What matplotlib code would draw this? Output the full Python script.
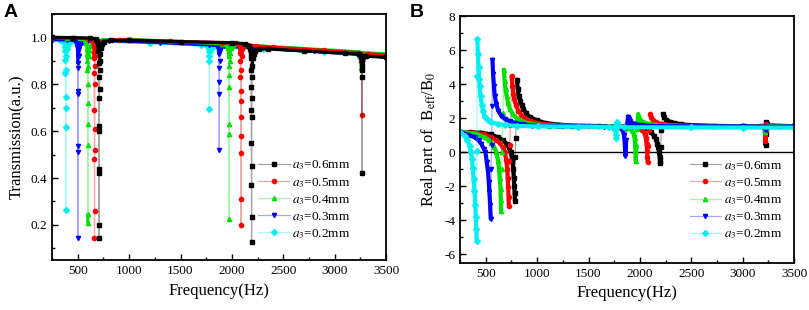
import numpy as np
import matplotlib
matplotlib.use('Agg')
import matplotlib.pyplot as plt
from matplotlib.ticker import MultipleLocator

plt.rcParams['font.family'] = ['Liberation Serif', 'DejaVu Serif']
plt.rcParams['mathtext.fontset'] = 'stix'
plt.rcParams['axes.unicode_minus'] = False

# legend labels, colours, markers (order as in the legend)
labels = ['$a_3$=0.6mm', '$a_3$=0.5mm', '$a_3$=0.4mm', '$a_3$=0.3mm', '$a_3$=0.2mm']
colors = ['#000000', '#ff0000', '#00e000', '#0000ff', '#00f0f0']
markers = ['s', 'o', '^', 'v', 'D']

# ---- panel A: transmission (frequency Hz, transmission a.u.)
trans_06 = [(250, 1.0), (450, 0.999), (620, 0.997), (680, 0.993), (692, 0.985), (698, 0.97),
            (701, 0.94), (703, 0.89), (704, 0.83), (705, 0.74), (706, 0.6), (707, 0.42),
            (708, 0.145), (709, 0.2), (710, 0.44), (711, 0.62), (712, 0.78), (713, 0.86),
            (715, 0.9), (718, 0.93), (724, 0.955), (735, 0.97), (760, 0.98), (820, 0.987),
            (1000, 0.987), (1500, 0.982), (2000, 0.977), (2130, 0.973), (2165, 0.965),
            (2176, 0.95), (2181, 0.93), (2184, 0.91), (2186, 0.86), (2187, 0.79), (2188, 0.69),
            (2189, 0.55), (2190, 0.37), (2191, 0.128), (2192, 0.234), (2193, 0.45), (2194, 0.66),
            (2195, 0.74), (2196, 0.83), (2198, 0.88), (2202, 0.91), (2210, 0.93), (2225, 0.943),
            (2260, 0.95), (2350, 0.951), (2700, 0.942), (3100, 0.932), (3235, 0.928),
            (3252, 0.922), (3258, 0.915), (3262, 0.905), (3263, 0.83), (3264, 0.88), (3265, 0.42),
            (3266, 0.86), (3268, 0.9), (3275, 0.915), (3300, 0.92), (3500, 0.915)]
trans_05 = [(250, 0.998), (450, 0.997), (600, 0.995), (640, 0.99), (650, 0.98), (655, 0.965),
            (658, 0.935), (659, 0.91), (660, 0.85), (661, 0.69), (662, 0.48), (663, 0.145),
            (664, 0.26), (665, 0.52), (666, 0.61), (667, 0.8), (668, 0.88), (670, 0.92),
            (674, 0.945), (682, 0.962), (700, 0.975), (750, 0.985), (900, 0.99), (1400, 0.984),
            (1900, 0.978), (2040, 0.975), (2068, 0.968), (2076, 0.955), (2080, 0.935),
            (2082, 0.9), (2083, 0.83), (2084, 0.77), (2085, 0.66), (2086, 0.505), (2087, 0.2),
            (2088, 0.31), (2089, 0.58), (2090, 0.73), (2092, 0.86), (2095, 0.92), (2100, 0.95),
            (2115, 0.962), (2160, 0.967), (2400, 0.958), (2900, 0.945), (3230, 0.935),
            (3252, 0.928), (3258, 0.915), (3260, 0.9), (3262, 0.67), (3264, 0.91), (3270, 0.925),
            (3320, 0.93), (3500, 0.925)]
trans_04 = [(250, 1.0), (400, 0.999), (540, 0.996), (575, 0.99), (585, 0.975), (590, 0.955),
            (592, 0.93), (594, 0.9), (595, 0.86), (596, 0.72), (597, 0.54), (598, 0.21),
            (599, 0.245), (600, 0.63), (601, 0.8), (603, 0.88), (606, 0.92), (612, 0.945),
            (625, 0.965), (660, 0.98), (750, 0.99), (1000, 0.992), (1500, 0.982), (1900, 0.972),
            (1950, 0.965), (1962, 0.955), (1967, 0.94), (1969, 0.92), (1970, 0.88), (1971, 0.79),
            (1972, 0.63), (1973, 0.226), (1974, 0.59), (1975, 0.84), (1977, 0.9), (1981, 0.935),
            (1990, 0.955), (2010, 0.965), (2100, 0.968), (2600, 0.955), (3100, 0.942),
            (3240, 0.938), (3252, 0.93), (3256, 0.9), (3258, 0.87), (3260, 0.92), (3270, 0.935),
            (3500, 0.93)]
trans_03 = [(250, 0.99), (400, 0.989), (470, 0.986), (490, 0.975), (496, 0.96), (499, 0.94),
            (500, 0.92), (501, 0.89), (502, 0.77), (503, 0.535), (504, 0.145), (505, 0.51),
            (506, 0.76), (507, 0.87), (509, 0.92), (513, 0.95), (522, 0.968), (545, 0.978),
            (600, 0.984), (800, 0.986), (1300, 0.978), (1780, 0.968), (1850, 0.965),
            (1866, 0.955), (1871, 0.93), (1874, 0.87), (1876, 0.76), (1877, 0.52), (1878, 0.81),
            (1880, 0.9), (1884, 0.94), (1893, 0.955), (1920, 0.962), (2200, 0.956), (2800, 0.94),
            (3230, 0.928), (3248, 0.922), (3252, 0.905), (3255, 0.925), (3270, 0.925),
            (3500, 0.915)]
trans_02 = [(250, 0.99), (330, 0.989), (360, 0.985), (370, 0.975), (375, 0.96), (378, 0.94),
            (380, 0.903), (381, 0.847), (382, 0.745), (383, 0.618), (384, 0.262), (385, 0.7),
            (386, 0.86), (388, 0.92), (392, 0.95), (400, 0.965), (420, 0.975), (470, 0.982),
            (700, 0.985), (1200, 0.978), (1700, 0.967), (1760, 0.963), (1773, 0.955),
            (1777, 0.94), (1779, 0.92), (1780, 0.694), (1781, 0.9), (1784, 0.94), (1792, 0.955),
            (1820, 0.96), (2300, 0.952), (2900, 0.938), (3225, 0.93), (3240, 0.925),
            (3244, 0.915), (3248, 0.925), (3300, 0.925), (3500, 0.92)]

# ---- panel B: real part of B_eff/B_0
beff_06 = [(250, 1.18), (350, 1.17), (458, 1.15), (550, 1.05), (621, 0.88), (670, 0.7),
           (703, 0.49), (725, 0.28), (745, 0.0), (758, -0.5), (768, -0.98), (773, -1.5),
           (777, -1.96), (781, -2.4), (784, -2.84), (788, -0.27), (792, 0.84), (804, 4.27),
           (812, 3.7), (822, 3.3), (833, 3.04), (850, 2.75), (866, 2.55), (895, 2.28),
           (931, 2.06), (1000, 1.87), (1078, 1.72), (1200, 1.63), (1340, 1.57), (1600, 1.54),
           (1900, 1.52), (2050, 1.45), (2107, 1.18), (2140, 0.95), (2156, 0.78), (2170, 0.5),
           (2179, 0.29), (2186, 0.0), (2192, -0.29), (2196, -0.5), (2198, -0.62), (2203, 0.3),
           (2208, 1.3), (2222, 2.25), (2235, 2.1), (2254, 1.92), (2290, 1.8), (2336, 1.72),
           (2400, 1.65), (2467, 1.6), (2725, 1.55), (3000, 1.53), (3180, 1.52), (3210, 1.47),
           (3218, 1.3), (3222, 0.43), (3225, 1.1), (3227, 1.76), (3235, 1.65), (3260, 1.57),
           (3350, 1.54), (3500, 1.53)]
beff_05 = [(250, 1.18), (392, 1.15), (480, 1.05), (556, 0.88), (600, 0.72), (637, 0.55),
           (665, 0.28), (686, 0.0), (700, -0.45), (709, -0.98), (714, -1.5), (719, -2.06),
           (722, -2.6), (725, -3.14), (730, -0.5), (734, 0.45), (740, 1.6), (752, 4.47),
           (760, 3.9), (768, 3.45), (777, 3.14), (795, 2.75), (817, 2.45), (845, 2.2),
           (882, 2.0), (940, 1.83), (1013, 1.7), (1120, 1.62), (1242, 1.57), (1500, 1.54),
           (1850, 1.52), (1980, 1.46), (2025, 1.3), (2045, 1.1), (2058, 0.85), (2065, 0.5),
           (2070, 0.1), (2073, -0.3), (2076, -0.6), (2082, 0.35), (2088, 1.3), (2100, 2.24),
           (2110, 2.05), (2125, 1.9), (2160, 1.75), (2220, 1.65), (2320, 1.58), (2600, 1.54),
           (3000, 1.53), (3200, 1.52), (3215, 1.45), (3219, 1.2), (3221, 0.65), (3224, 1.3),
           (3227, 1.65), (3240, 1.58), (3500, 1.53)]
beff_04 = [(250, 1.18), (327, 1.15), (420, 1.05), (490, 0.88), (530, 0.72), (556, 0.55),
           (585, 0.28), (605, 0.0), (620, -0.5), (630, -0.98), (636, -1.5), (644, -2.16),
           (647, -2.8), (650, -3.43), (655, -1.0), (660, 0.0), (668, 2.3), (676, 4.86),
           (684, 4.2), (693, 3.7), (703, 3.33), (718, 2.9), (735, 2.55), (765, 2.22),
           (801, 2.0), (855, 1.83), (915, 1.7), (1010, 1.62), (1111, 1.57), (1400, 1.54),
           (1750, 1.52), (1880, 1.45), (1920, 1.28), (1938, 1.1), (1948, 0.85), (1953, 0.5),
           (1957, 0.1), (1960, -0.5), (1966, 0.4), (1972, 1.35), (1983, 2.24), (1992, 2.05),
           (2005, 1.9), (2040, 1.75), (2100, 1.65), (2200, 1.58), (2500, 1.54), (3000, 1.53),
           (3215, 1.5), (3221, 1.2), (3225, 1.45), (3235, 1.55), (3500, 1.54)]
beff_03 = [(250, 1.17), (262, 1.15), (330, 1.02), (392, 0.88), (430, 0.7), (458, 0.49),
           (480, 0.22), (497, 0.0), (510, -0.55), (523, -1.18), (530, -1.75), (536, -2.35),
           (543, -3.1), (549, -3.92), (553, -1.0), (557, 0.45), (561, 2.7), (566, 5.45),
           (572, 4.6), (580, 3.9), (588, 3.33), (603, 2.85), (621, 2.45), (650, 2.15),
           (686, 1.96), (735, 1.82), (784, 1.72), (860, 1.64), (948, 1.57), (1200, 1.53),
           (1650, 1.51), (1780, 1.47), (1820, 1.38), (1835, 1.25), (1845, 1.0), (1851, 0.65),
           (1855, 0.25), (1859, -0.2), (1866, 0.7), (1875, 1.6), (1885, 2.1), (1893, 1.95),
           (1905, 1.82), (1940, 1.68), (2020, 1.58), (2200, 1.53), (3000, 1.52), (3218, 1.5),
           (3222, 1.3), (3226, 1.5), (3500, 1.52)]
beff_02 = [(250, 1.18), (294, 0.98), (320, 0.75), (343, 0.39), (355, 0.0), (366, -0.39),
           (375, -0.95), (382, -1.57), (391, -2.3), (399, -3.1), (404, -3.8), (408, -4.5),
           (412, -5.2), (414, 0.1), (416, 4.5), (419, 6.66), (424, 5.8), (430, 5.0), (436, 4.3),
           (441, 3.9), (450, 3.3), (462, 2.8), (475, 2.4), (490, 2.06), (520, 1.88), (556, 1.76),
           (620, 1.66), (686, 1.6), (800, 1.55), (1010, 1.52), (1400, 1.5), (1700, 1.48),
           (1750, 1.45), (1762, 1.3), (1767, 1.0), (1770, 0.85), (1773, 1.75), (1778, 1.65),
           (1790, 1.55), (1850, 1.47), (2500, 1.46), (3000, 1.45), (3500, 1.45)]

trans_series = [trans_06, trans_05, trans_04, trans_03, trans_02]
beff_series = [beff_06, beff_05, beff_04, beff_03, beff_02]


def draw_series(ax, data, color, marker, label, jump, thick_lw):
    f, v = np.array(data, dtype=float).T
    rgb = matplotlib.colors.to_rgb(color)
    # dense data band: thick line, broken where the curve jumps
    cut = np.where(np.abs(np.diff(v)) > jump)[0] + 1
    for fs, vs in zip(np.split(f, cut), np.split(v, cut)):
        if len(fs) > 1:
            ax.plot(fs, vs, color=color, lw=thick_lw, solid_capstyle='round', zorder=2)
    line, = ax.plot(f, v, color=rgb + (0.35,), lw=0.9, marker=marker, ms=3.0,
                    mfc=color, mec=color, label=label, zorder=2)
    return line


def style_axes(ax):
    for s in ax.spines.values():
        s.set_linewidth(1.3)
    ax.tick_params(which='both', direction='in', top=False, right=False, labelsize=9.5)
    ax.tick_params(which='major', length=4, width=1)
    ax.tick_params(which='minor', length=2.5, width=1)
    ax.set_xlim(250, 3500)
    ax.xaxis.set_major_locator(MultipleLocator(500))
    ax.xaxis.set_minor_locator(MultipleLocator(250))
    ax.set_xlabel('Frequency(Hz)', fontsize=12)


fig = plt.figure(figsize=(8.09, 3.10), dpi=100)
axA = fig.add_axes([0.0643, 0.161, 0.413, 0.794])
axB = fig.add_axes([0.5686, 0.152, 0.413, 0.796])

# panel A: black drawn last so its band stays on top
handles_a = {}
for i in reversed(range(len(trans_series))):
    handles_a[i] = draw_series(axA, trans_series[i], colors[i], markers[i], labels[i], 0.035, 2.3)
style_axes(axA)
axA.set_ylim(0.05, 1.1)
axA.yaxis.set_major_locator(MultipleLocator(0.2))
axA.yaxis.set_minor_locator(MultipleLocator(0.1))
axA.set_ylabel('Transmission(a.u.)', fontsize=12)
axA.legend(handles=[handles_a[i] for i in range(len(labels))],
           loc='lower right', bbox_to_anchor=(0.93, 0.03), frameon=False, fontsize=9.5,
           handlelength=2.4, handletextpad=0.2, labelspacing=0.25, numpoints=1)

for data, c, m, lab in zip(beff_series, colors, markers, labels):
    draw_series(axB, data, c, m, lab, 0.9, 3.0)
style_axes(axB)
axB.axhline(0, color='black', lw=1, zorder=1)
axB.set_ylim(-6.5, 8)
axB.yaxis.set_major_locator(MultipleLocator(2))
axB.yaxis.set_minor_locator(MultipleLocator(1))
axB.set_ylabel('Real part of  B$_{\\rm eff}$/B$_0$', fontsize=12)
axB.legend(loc='lower right', bbox_to_anchor=(1.0, 0.04), frameon=False, fontsize=9.5,
           handlelength=2.4, handletextpad=0.2, labelspacing=0.25, numpoints=1)

fig.text(0.004, 0.945, 'A', fontsize=14, fontweight='bold', family='Liberation Sans')
fig.text(0.506, 0.945, 'B', fontsize=14, fontweight='bold', family='Liberation Sans')

fig.savefig('out.png', dpi=100)
